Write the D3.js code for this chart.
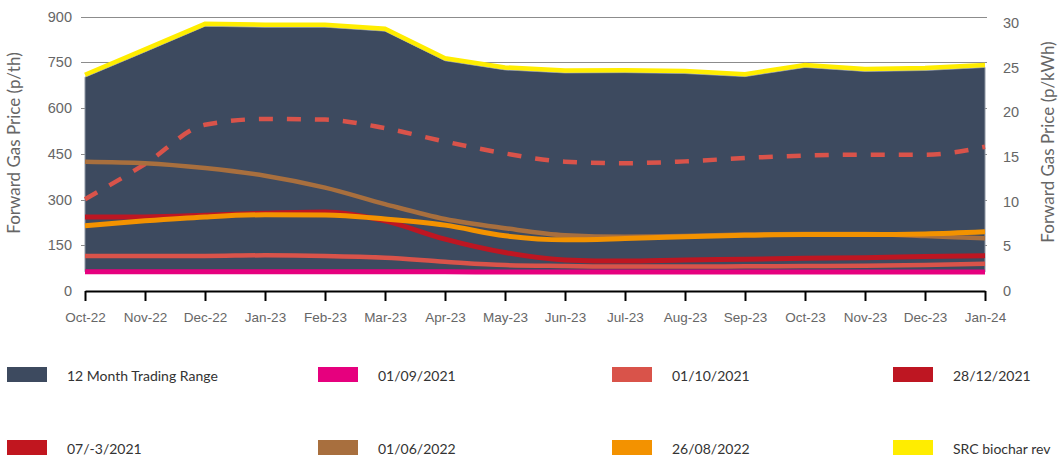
<!DOCTYPE html>
<html>
<head>
<meta charset="utf-8">
<script src="https://cdn.jsdelivr.net/npm/d3@7"></script>
<style>
  html, body { margin: 0; padding: 0; background: #fff; }
  svg { display: block; font-family: Lato, "Open Sans", sans-serif; }
</style>
</head>
<body>
<svg id="chart" width="1059" height="456"></svg>
<script>
// Forward months on the x axis
const months = ["Oct-22","Nov-22","Dec-22","Jan-23","Feb-23","Mar-23","Apr-23","May-23",
                "Jun-23","Jul-23","Aug-23","Sep-23","Oct-23","Nov-23","Dec-23","Jan-24"];

// 12 month trading range (p/th)
const rangeHigh = [701, 784, 868, 865, 865, 852, 755, 725, 715, 716, 713, 703, 733, 720, 723, 733];
const rangeLow  = [63, 63, 63, 63, 63, 63, 63, 62, 62, 62, 62, 62, 62, 62, 62, 62];

// Forward curves by trade date (p/th)
const curve01092021 = [63, 63, 63, 63, 63, 63, 63, 62, 62, 62, 62, 62, 62, 62, 62, 62];
const curve01102021 = [115, 115, 115, 117, 115, 109, 96, 85, 82, 80, 80, 81, 82, 83, 85, 89];
const curve28122021 = [243, 243, 248, 255, 259, 230, 170, 126, 102, 98, 102, 104, 107, 109, 113, 116];
const curve07032022 = [301, 416, 545, 564, 562, 534, 490, 451, 424, 419, 425, 436, 444, 447, 447, 473];
const curve01062022 = [424, 419, 403, 378, 339, 285, 236, 206, 183, 178, 180, 185, 187, 187, 180, 173];
const curve26082022 = [214, 230, 243, 250, 249, 236, 216, 181, 168, 172, 178, 183, 185, 185, 187, 194];
const srcBiochar    = [709, 792, 876, 873, 873, 860, 763, 733, 723, 724, 721, 711, 741, 728, 731, 741];

// Axis ticks
const leftTicks  = [0, 150, 300, 450, 600, 750, 900];
const rightTicks = [0, 5, 10, 15, 20, 25, 30];
const PTH_PER_KWH = 29.3071;

const svg = d3.select("#chart");
const x = d3.scalePoint().domain(months).range([85, 985]);
const y = d3.scaleLinear().domain([0, 900]).range([291, 16.5]);
const yRight = d3.scaleLinear().domain([0, 900 / PTH_PER_KWH]).range([291, 16.5]);

// Gridlines
svg.append("g").selectAll("line").data(leftTicks.filter(d => d > 0)).join("line")
  .attr("x1", 81).attr("x2", 987)
  .attr("y1", d => Math.round(y(d)) + 0.5).attr("y2", d => Math.round(y(d)) + 0.5)
  .attr("stroke", "#8c8c8c").attr("stroke-width", 1);

// Trading range band
const band = d3.area()
  .x((d, i) => x(months[i]))
  .y0((d, i) => y(rangeLow[i]))
  .y1((d, i) => y(rangeHigh[i]))
  .curve(d3.curveLinear);
svg.append("path").datum(rangeHigh)
  .attr("d", band)
  .attr("fill", "#3d4a5f")
  .attr("stroke", "#8e96a3").attr("stroke-width", 1);

// Forward curves
const series = [
  { values: curve01092021, color: "#e6007e", width: 5, dash: null, curve: d3.curveMonotoneX },
  { values: curve01102021, color: "#d9534a", width: 4.5, dash: null, curve: d3.curveMonotoneX },
  { values: curve28122021, color: "#be1622", width: 5, dash: null, curve: d3.curveMonotoneX },
  { values: curve07032022, color: "#d9534a", width: 4.5, dash: "14 14", curve: d3.curveMonotoneX },
  { values: curve01062022, color: "#a86f3e", width: 4.5, dash: null, curve: d3.curveMonotoneX },
  { values: curve26082022, color: "#f39200", width: 5, dash: null, curve: d3.curveMonotoneX },
  { values: srcBiochar,    color: "#ffed00", width: 4.5, dash: null, curve: d3.curveLinear }
];
series.forEach(s => {
  const line = d3.line().x((d, i) => x(months[i])).y(d => y(d)).curve(s.curve);
  svg.append("path").datum(s.values)
    .attr("d", line)
    .attr("fill", "none")
    .attr("stroke", s.color)
    .attr("stroke-width", s.width)
    .attr("stroke-dasharray", s.dash);
});

// X axis
const xAxis = svg.append("g").attr("transform", "translate(0,291)")
  .call(d3.axisBottom(x).tickSizeInner(10).tickSizeOuter(0).tickPadding(11));
xAxis.select(".domain").attr("stroke", "#000").attr("stroke-width", 2);
xAxis.selectAll(".tick line").attr("stroke", "#000").attr("stroke-width", 2);
xAxis.selectAll(".tick text").attr("fill", "#666").style("font-size", "13.5px");

// Left axis
const yAxisL = svg.append("g").attr("transform", "translate(81,0)")
  .call(d3.axisLeft(y).tickValues(leftTicks).tickSize(0).tickPadding(9));
yAxisL.select(".domain").remove();
yAxisL.selectAll(".tick text").attr("fill", "#666").style("font-size", "14.5px");

// Right axis (p/kWh)
const yAxisR = svg.append("g").attr("transform", "translate(994,0)")
  .call(d3.axisRight(yRight).tickValues(rightTicks).tickSize(0).tickPadding(9));
yAxisR.select(".domain").remove();
yAxisR.selectAll(".tick text").attr("fill", "#666").style("font-size", "14.5px");

// Axis titles
svg.append("text")
  .attr("transform", "translate(20,143) rotate(-90)")
  .attr("text-anchor", "middle")
  .attr("fill", "#666").style("font-size", "17px")
  .text("Forward Gas Price (p/th)");
svg.append("text")
  .attr("transform", "translate(1054,142) rotate(-90)")
  .attr("text-anchor", "middle")
  .attr("fill", "#666").style("font-size", "17px")
  .text("Forward Gas Price (p/kWh)");

// Legend
const legendItems = [
  { label: "12 Month Trading Range", color: "#3d4a5f" },
  { label: "01/09/2021", color: "#e6007e" },
  { label: "01/10/2021", color: "#d9534a" },
  { label: "28/12/2021", color: "#be1622" },
  { label: "07/-3/2021", color: "#c1161f" },
  { label: "01/06/2022", color: "#a86f3e" },
  { label: "26/08/2022", color: "#f39200" },
  { label: "SRC biochar rev", color: "#ffed00" }
];
const colX = [7, 318, 612, 893];
const rowY = [367, 440];
const legend = svg.append("g").selectAll("g").data(legendItems).join("g")
  .attr("transform", (d, i) => `translate(${colX[i % 4]},${rowY[Math.floor(i / 4)]})`);
legend.append("rect").attr("width", 40).attr("height", 15).attr("fill", d => d.color);
legend.append("text").attr("x", 60).attr("y", 14)
  .attr("fill", "#333").style("font-size", "14px")
  .text(d => d.label);
</script>
</body>
</html>
